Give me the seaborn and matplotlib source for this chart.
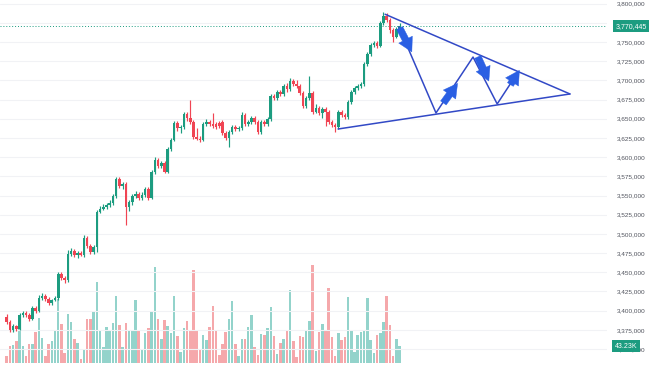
import numpy as np
import pandas as pd
import matplotlib
matplotlib.use('Agg')
import matplotlib.pyplot as plt
import matplotlib.transforms as mtransforms
from matplotlib.ticker import FuncFormatter, MultipleLocator
import seaborn as sns

# OHLC en milliers, une bougie par position
opens = [3392, 3385, 3375, 3380, 3376, 3394, 3397, 3394, 3389, 3404,
         3400, 3417, 3419, 3415, 3410, 3414, 3417, 3448, 3443, 3440,
         3474, 3478, 3473, 3475, 3473, 3495, 3484, 3477, 3483, 3529,
         3532, 3535, 3538, 3540, 3549, 3571, 3562, 3565, 3535, 3542,
         3549, 3552, 3547, 3551, 3558, 3547, 3581, 3596, 3588, 3592,
         3581, 3611, 3622, 3644, 3638, 3639, 3656, 3651, 3646, 3626,
         3624, 3622, 3643, 3646, 3643, 3643, 3645, 3646, 3631, 3625,
         3633, 3639, 3637, 3638, 3655, 3643, 3646, 3651, 3646, 3633,
         3646, 3643, 3650, 3680, 3677, 3685, 3682, 3693, 3689, 3699,
         3695, 3693, 3683, 3667, 3677, 3683, 3659, 3664, 3657, 3663,
         3659, 3646, 3642, 3639, 3659, 3655, 3652, 3672, 3685, 3690,
         3693, 3695, 3721, 3734, 3746, 3749, 3745, 3775, 3784, 3778,
         3765, 3756, 3767]
highs = [3396, 3388, 3383, 3381, 3397, 3400, 3400, 3397, 3406, 3406,
         3420, 3423, 3422, 3418, 3415, 3419, 3450, 3450, 3445, 3479,
         3482, 3480, 3478, 3478, 3499, 3497, 3487, 3486, 3531, 3536,
         3539, 3540, 3544, 3552, 3574, 3574, 3568, 3568, 3544, 3552,
         3556, 3555, 3555, 3561, 3561, 3583, 3600, 3599, 3595, 3595,
         3613, 3625, 3647, 3647, 3642, 3659, 3659, 3674, 3648, 3638,
         3627, 3646, 3650, 3648, 3658, 3646, 3647, 3648, 3634, 3635,
         3642, 3642, 3641, 3659, 3657, 3648, 3654, 3654, 3648, 3648,
         3648, 3652, 3682, 3682, 3687, 3687, 3695, 3696, 3703, 3702,
         3700, 3695, 3686, 3680, 3706, 3686, 3669, 3667, 3665, 3665,
         3661, 3648, 3644, 3661, 3661, 3657, 3674, 3687, 3693, 3695,
         3698, 3724, 3737, 3749, 3751, 3751, 3777, 3789, 3788, 3781,
         3768, 3769, 3775]
lows = [3383, 3372, 3372, 3374, 3375, 3392, 3392, 3387, 3388, 3397,
        3398, 3414, 3413, 3407, 3407, 3413, 3414, 3440, 3436, 3437,
        3471, 3470, 3469, 3471, 3470, 3482, 3474, 3474, 3477, 3527,
        3531, 3532, 3535, 3538, 3547, 3560, 3558, 3512, 3530, 3538,
        3547, 3544, 3544, 3548, 3544, 3545, 3578, 3586, 3586, 3579,
        3579, 3608, 3621, 3634, 3631, 3637, 3647, 3643, 3624, 3622,
        3620, 3621, 3641, 3641, 3638, 3637, 3638, 3629, 3622, 3613,
        3630, 3634, 3634, 3635, 3641, 3641, 3643, 3643, 3630, 3630,
        3641, 3641, 3647, 3674, 3674, 3680, 3680, 3685, 3686, 3693,
        3690, 3681, 3664, 3664, 3674, 3656, 3657, 3655, 3651, 3641,
        3643, 3639, 3633, 3637, 3652, 3650, 3650, 3669, 3682, 3687,
        3690, 3693, 3719, 3732, 3743, 3742, 3743, 3772, 3776, 3762,
        3750, 3755, 3765]
closes = [3385, 3375, 3380, 3376, 3394, 3397, 3394, 3389, 3404, 3400,
          3417, 3419, 3415, 3410, 3414, 3417, 3448, 3443, 3440, 3474,
          3478, 3473, 3475, 3473, 3495, 3484, 3477, 3483, 3529, 3532,
          3535, 3538, 3540, 3549, 3571, 3562, 3565, 3535, 3542, 3549,
          3552, 3547, 3551, 3558, 3547, 3581, 3596, 3588, 3592, 3581,
          3611, 3622, 3644, 3638, 3639, 3656, 3651, 3646, 3626, 3624,
          3622, 3643, 3646, 3643, 3641, 3639, 3641, 3631, 3625, 3633,
          3639, 3637, 3638, 3655, 3643, 3646, 3651, 3646, 3633, 3646,
          3643, 3650, 3680, 3677, 3685, 3682, 3693, 3689, 3699, 3695,
          3693, 3683, 3667, 3677, 3683, 3659, 3664, 3657, 3663, 3659,
          3646, 3642, 3639, 3659, 3655, 3652, 3672, 3685, 3690, 3693,
          3695, 3721, 3734, 3746, 3749, 3745, 3775, 3784, 3778, 3765,
          3756, 3767, 3770.445]
volumes_k = [17.3, 43.3, 47.6, 56.2, 88.2, 43.3, 17.3, 50.2, 50.2, 79.6,
             116.8, 64.9, 17.3, 50.2, 56.2, 83.9, 166.1, 101.2, 26.0, 127.2,
             105.5, 62.3, 51.9, 10.4, 32.9, 114.2, 114.2, 132.3, 209.3, 86.5,
             41.5, 93.4, 86.5, 103.8, 173.0, 99.5, 41.5, 103.8, 84.8, 86.5,
             162.6, 82.2, 36.3, 77.9, 90.8, 131.5, 249.1, 115.0, 62.3, 112.5,
             96.9, 77.9, 174.7, 70.9, 27.7, 90.8, 109.9, 86.5, 240.5, 82.2,
             36.3, 73.5, 60.6, 93.4, 148.8, 86.5, 21.6, 49.3, 79.6, 114.2,
             160.0, 49.3, 19.0, 62.3, 62.3, 93.4, 123.7, 41.5, 21.6, 76.1,
             73.5, 90.8, 145.3, 70.9, 24.2, 51.9, 62.3, 84.8, 188.6, 58.0,
             15.6, 69.2, 67.5, 86.5, 109.9, 253.4, 30.3, 80.4, 102.1, 82.2,
             194.6, 66.6, 19.0, 77.9, 58.8, 66.6, 171.3, 84.8, 27.7, 73.5,
             79.6, 84.8, 167.8, 58.8, 26.0, 73.5, 77.9, 105.5, 174.7, 98.6,
             19.0, 62.3, 43.23]

last_price_label = "3,770,445"
last_volume_label = "43.23K"

# triangle dessiné à la main (position de bougie, prix en milliers)
upper_line_idx = [117.5, 174.9]
upper_line_price = [3786, 3682.2]
lower_line_idx = [102.9, 174.9]
lower_line_price = [3636.6, 3682.2]
wave_idx = [121.8, 133.3, 144.8, 152.3, 158.8]
wave_price = [3769.4, 3657.5, 3730.3, 3669.2, 3710.8]
arrow_tail_idx = [122.0, 135.6, 146.3, 156.4]
arrow_tail_price = [3768.0, 3670.5, 3730.5, 3694.5]
arrow_tip_idx = [125.8, 140.0, 149.7, 159.2]
arrow_tip_price = [3737.0, 3696.0, 3699.0, 3713.0]

GREEN = '#1c9c80'
RED = '#f04453'
VOL_GREEN = '#93d3cb'
VOL_RED = '#f5a8ab'
LINE_BLUE = '#3249c6'
ARROW_BLUE = '#2a5fe3'

df = pd.DataFrame({
    'open': np.array(opens) * 1000,
    'high': np.array(highs) * 1000,
    'low': np.array(lows) * 1000,
    'close': np.array(closes) * 1000,
    'volume': np.array(volumes_k) * 1000,
})
df['idx'] = np.arange(len(df))
df['sens'] = np.where(df['close'] >= df['open'], 'hausse', 'baisse')

sns.set_theme(style='white')
plt.rcParams['font.family'] = ['Liberation Sans', 'DejaVu Sans']

W, H = 654, 366
fig = plt.figure(figsize=(W / 100, H / 100), dpi=100)
rect = [0, 3 / H, 607 / W, 363 / H]
ax_vol = fig.add_axes(rect)
ax = fig.add_axes(rect)
ax.patch.set_visible(False)

# volumes en bas
sns.barplot(data=df, x='idx', y='volume', hue='sens',
            palette={'hausse': VOL_GREEN, 'baisse': VOL_RED},
            native_scale=True, dodge=False, width=0.78, errorbar=None,
            legend=False, saturation=1, linewidth=0, ax=ax_vol)
ax_vol.set_ylim(0, 942000)
ax_vol.axis('off')

# bougies
couleurs = np.where(df['sens'] == 'hausse', GREEN, RED)
ax.vlines(df['idx'], df['low'], df['high'], colors=couleurs, lw=0.85, zorder=2)
corps = np.maximum((df['close'] - df['open']).abs(), 1400)
ax.bar(df['idx'], corps, bottom=np.minimum(df['open'], df['close']),
       width=0.8, color=couleurs, linewidth=0, zorder=2)

# dernier prix
ax.axhline(df['close'].iloc[-1], color=GREEN, ls=(0, (1, 2)), lw=0.7, zorder=1)

# triangle + vagues
ax.plot(upper_line_idx, np.array(upper_line_price) * 1000, color=LINE_BLUE, lw=1.1, zorder=3)
ax.plot(lower_line_idx, np.array(lower_line_price) * 1000, color=LINE_BLUE, lw=1.1, zorder=3)
ax.plot(wave_idx, np.array(wave_price) * 1000, color=LINE_BLUE, lw=1.1, zorder=3)
for tx, ty, hx, hy in zip(arrow_tail_idx, arrow_tail_price, arrow_tip_idx, arrow_tip_price):
    ax.annotate('', xy=(hx, hy * 1000), xytext=(tx, ty * 1000),
                arrowprops=dict(arrowstyle='simple,head_length=0.9,head_width=1.0,tail_width=0.45',
                                fc=ARROW_BLUE, ec=ARROW_BLUE, lw=0.3, mutation_scale=11,
                                shrinkA=0, shrinkB=0), zorder=4)

ax.set_xlim(-2.08, 186.4)
ax_vol.set_xlim(-2.08, 186.4)
ax.set_ylim(3331900, 3804560)
ax.yaxis.set_major_locator(MultipleLocator(25000))
ax.yaxis.set_major_formatter(FuncFormatter(lambda v, p: f"{v:,.0f}"))
ax.yaxis.tick_right()
ax.tick_params(axis='y', length=0, pad=7.2, labelsize=4.6, labelcolor='#4f525c')
ax.tick_params(axis='x', bottom=False, labelbottom=False)
ax.grid(axis='y', color='#f1f2f5', lw=0.8)
for s in ax.spines.values():
    s.set_visible(False)

# étiquettes sur l'échelle de prix
ax.text(1.0135, df['close'].iloc[-1], last_price_label, transform=ax.get_yaxis_transform(),
        ha='left', va='center', fontsize=5.0, color='white', zorder=5,
        bbox=dict(boxstyle='square,pad=0.35', fc=GREEN, ec='none'))
trans_vol = mtransforms.blended_transform_factory(ax.transAxes, ax_vol.transData)
ax.text(1.0125, df['volume'].iloc[-1], last_volume_label, transform=trans_vol,
        ha='left', va='center', fontsize=5.0, color='white', zorder=5,
        bbox=dict(boxstyle='square,pad=0.35', fc=GREEN, ec='none'))

fig.savefig('out.png', dpi=100, facecolor='white')
